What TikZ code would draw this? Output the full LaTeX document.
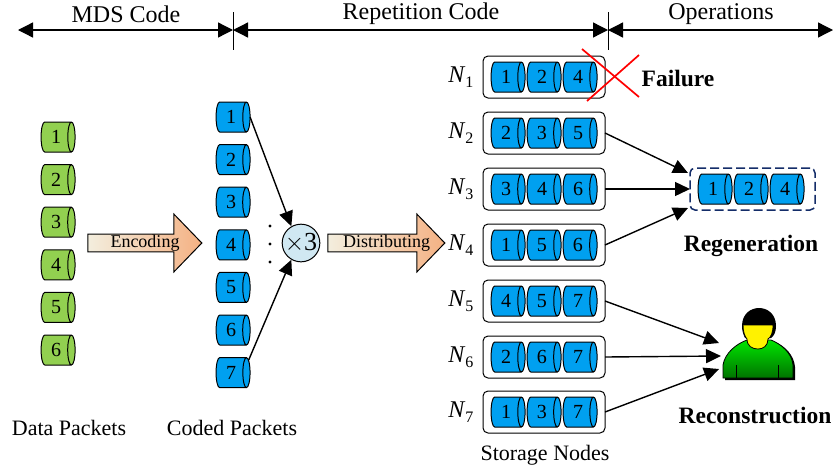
\documentclass[tikz,border=0pt]{standalone}
\usepackage{fontspec}
\setmainfont{Liberation Serif}
\usetikzlibrary{positioning,arrows.meta,shapes.geometric,shapes.arrows}
\definecolor{pktgreen}{RGB}{146,208,80}
\definecolor{pktblue}{RGB}{0,160,240}
\definecolor{arrowbeige}{RGB}{243,238,222}
\definecolor{arroworange}{RGB}{244,177,131}
\definecolor{regennavy}{RGB}{20,45,105}
\definecolor{timesfill}{RGB}{208,232,242}
\newcommand{\nlab}[1]{\textit{N}\raisebox{-5pt}{\fontsize{16}{16}\selectfont #1}}
\tikzstyle{pkt}=[cylinder, shape aspect=0.55, draw=black, line width=1pt, outer sep=0pt,
                 inner sep=0pt, minimum height=34pt, minimum width=30pt,
                 cylinder uses custom fill, font=\fontsize{20}{20}\selectfont]
\tikzstyle{gpkt}=[pkt, cylinder body fill=pktgreen, cylinder end fill=pktgreen]
\tikzstyle{bpkt}=[pkt, cylinder body fill=pktblue, cylinder end fill=pktblue]
\tikzstyle{sbox}=[rectangle, rounded corners=5pt, draw=black, line width=1pt, outer sep=0pt,
                  minimum width=122pt, minimum height=42pt]
\tikzstyle{rbox}=[rectangle, rounded corners=5pt, draw=regennavy, line width=1.5pt, outer sep=0pt,
                  dash pattern=on 9pt off 4pt, minimum width=125pt, minimum height=42pt]
\tikzstyle{bigarrow}=[single arrow, draw=black, line width=1pt, inner sep=0pt, outer sep=0pt,
                  left color=arrowbeige, right color=arroworange, minimum width=58pt,
                  single arrow head extend=19.5pt, single arrow tip angle=92,
                  font=\fontsize{18}{20}\selectfont]
\tikzstyle{pline}=[-{Triangle[length=15pt,width=14pt]}, line width=1.4pt]
\tikzstyle{spanline}=[{Triangle[length=15pt,width=15pt]}-{Triangle[length=15pt,width=15pt]}, line width=1.3pt]
\tikzstyle{toplabel}=[font=\fontsize{24}{26}\selectfont]
\tikzstyle{botlabel}=[font=\fontsize{22}{24}\selectfont]
\tikzstyle{boldlabel}=[font=\fontsize{23.5}{26}\selectfont\bfseries]
\tikzstyle{nlabel}=[font=\fontsize{24}{26}\selectfont]
\tikzstyle{fdot}=[circle, fill=black, inner sep=0pt, minimum size=3.4pt]

\begin{document}
\begin{tikzpicture}[x=1pt,y=-1pt]
\useasboundingbox (0,0) rectangle (834,469);

% top spans
\coordinate (T0) at (18,30);
\coordinate (T1) at (233,30);
\coordinate (T2) at (608,30);
\coordinate (T3) at (833,30);
\coordinate (T1U) at (233,12);
\coordinate (T1D) at (233,50);
\coordinate (T2U) at (608,12);
\coordinate (T2D) at (608,50);
\draw[spanline] (T0) -- (T1);
\draw[spanline] (T1) -- (T2);
\draw[spanline] (T2) -- (T3);
\draw[line width=1pt] (T1U) -- (T1D);
\draw[line width=1pt] (T2U) -- (T2D);
\node (MDS) [toplabel] at (126,14) {MDS Code};
\node (REP) [toplabel] at (421,14) {Repetition Code};
\node (OPS) [toplabel] at (721,14) {Operations};

% data packets
\node (D1) [gpkt] at (56,137) {1};
\node (D2) [gpkt, below=12.6pt of D1] {2};
\node (D3) [gpkt, below=12.6pt of D2] {3};
\node (D4) [gpkt, below=12.6pt of D3] {4};
\node (D5) [gpkt, below=12.6pt of D4] {5};
\node (D6) [gpkt, below=12.6pt of D5] {6};
\node (DATA) [botlabel] at (69,428) {Data Packets};

% coded packets
\node (C1) [bpkt] at (231,117) {1};
\node (C2) [bpkt, below=12.6pt of C1] {2};
\node (C3) [bpkt, below=12.6pt of C2] {3};
\node (C4) [bpkt, below=12.6pt of C3] {4};
\node (C5) [bpkt, below=12.6pt of C4] {5};
\node (C6) [bpkt, below=12.6pt of C5] {6};
\node (C7) [bpkt, below=12.6pt of C6] {7};
\node (CODED) [botlabel] at (232,428) {Coded Packets};

\node (ENC) [bigarrow, minimum height=114pt] at (140.5,243) {\hspace*{9pt}Encoding};
\node (DIS) [bigarrow, minimum height=117pt] at (382,243) {\hspace*{9pt}Distributing};

% replication
\node (TIMES) [circle, draw=black, line width=1pt, fill=timesfill, minimum size=36pt, inner sep=0pt,
               font=\fontsize{26}{26}\selectfont] at (301,243) {$\times$3};
\node (DOT1) [fdot] at (270,226) {};
\node (DOT2) [fdot] at (270,244) {};
\node (DOT3) [fdot] at (270,262) {};
\draw[pline] (C1.east) -- (TIMES.120);
\draw[pline] (C7.35) -- (TIMES.240);

% storage nodes
\node (N1) [sbox] at (544,77) {};
\node (N1A) [bpkt] at (506,77) {1};
\node (N1B) [bpkt, right=2pt of N1A] {2};
\node (N1C) [bpkt, right=2pt of N1B] {4};
\node (N1L) [nlabel, left=6pt of N1] {\nlab{1}};

\node (N2) [sbox] at (544,133) {};
\node (N2A) [bpkt] at (506,133) {2};
\node (N2B) [bpkt, right=2pt of N2A] {3};
\node (N2C) [bpkt, right=2pt of N2B] {5};
\node (N2L) [nlabel, left=6pt of N2] {\nlab{2}};

\node (N3) [sbox] at (544,189) {};
\node (N3A) [bpkt] at (506,189) {3};
\node (N3B) [bpkt, right=2pt of N3A] {4};
\node (N3C) [bpkt, right=2pt of N3B] {6};
\node (N3L) [nlabel, left=6pt of N3] {\nlab{3}};

\node (N4) [sbox] at (544,245) {};
\node (N4A) [bpkt] at (506,245) {1};
\node (N4B) [bpkt, right=2pt of N4A] {5};
\node (N4C) [bpkt, right=2pt of N4B] {6};
\node (N4L) [nlabel, left=6pt of N4] {\nlab{4}};

\node (N5) [sbox] at (544,301) {};
\node (N5A) [bpkt] at (506,301) {4};
\node (N5B) [bpkt, right=2pt of N5A] {5};
\node (N5C) [bpkt, right=2pt of N5B] {7};
\node (N5L) [nlabel, left=6pt of N5] {\nlab{5}};

\node (N6) [sbox] at (544,357) {};
\node (N6A) [bpkt] at (506,357) {2};
\node (N6B) [bpkt, right=2pt of N6A] {6};
\node (N6C) [bpkt, right=2pt of N6B] {7};
\node (N6L) [nlabel, left=6pt of N6] {\nlab{6}};

\node (N7) [sbox] at (544,412) {};
\node (N7A) [bpkt] at (506,412) {1};
\node (N7B) [bpkt, right=2pt of N7A] {3};
\node (N7C) [bpkt, right=2pt of N7B] {7};
\node (N7L) [nlabel, left=6pt of N7] {\nlab{7}};
\node (STORE) [botlabel] at (545,455) {Storage Nodes};

% failure
\coordinate (X1) at (582,49);
\coordinate (X2) at (639,97);
\coordinate (X3) at (587,101);
\coordinate (X4) at (639,55);
\draw[red, line width=1.7pt] (X1) -- (X2);
\draw[red, line width=1.7pt] (X3) -- (X4);
\node (FAIL) [boldlabel] at (678,78) {Failure};

% regeneration
\node (RGN) [rbox] at (752.5,189) {};
\node (RGNA) [bpkt] at (713,189) {1};
\node (RGNB) [bpkt, right=2pt of RGNA] {2};
\node (RGNC) [bpkt, right=2pt of RGNB] {4};
\node (REGEN) [boldlabel] at (751,246) {Regeneration};
\coordinate (RIN1) at (688,173);
\coordinate (RIN3) at (688,208);
\draw[pline] (N2.east) -- (RIN1);
\draw[pline] (N3.east) -- (RGN.west);
\draw[pline] (N4.east) -- (RIN3);

% reconstruction user
\fill[black] (725,380) -- (725,367) .. controls (727,355) and (738,346) .. (747,342)
   -- (775,342) .. controls (785,346) and (794,355) .. (795,367) -- (795,380) -- cycle;
\draw[black, line width=0.8pt, top color=green!90!black, bottom color=green!45!black]
   (723,378) -- (723,365) .. controls (725,353) and (736,344) .. (747,340)
   -- (771,340) .. controls (781,344) and (792,353) .. (793,365) -- (793,378) -- cycle;
\draw[black, line width=0.8pt] (736,365) -- (736,378);
\draw[black, line width=0.8pt] (778,365) -- (778,378);
\fill[black] (742,326) .. controls (742,302) and (776,302) .. (776,326)
   .. controls (776,332) and (774,336) .. (771,338) -- (745,338)
   .. controls (743,334) and (742,330) .. (742,326) -- cycle;
\draw[black, line width=0.8pt, fill=yellow] (743,325) -- (773,325)
   .. controls (773,333) and (771,337) .. (768,339)
   .. controls (768,346) and (763,349) .. (758,349)
   .. controls (752,349) and (747,346) .. (747,339)
   .. controls (745,337) and (743,332) .. (743,325) -- cycle;
\coordinate (UIN1) at (719,343);
\coordinate (UIN2) at (721,356);
\coordinate (UIN3) at (719,369);
\draw[pline] (N5.east) -- (UIN1);
\draw[pline] (N6.east) -- (UIN2);
\draw[pline] (N7.east) -- (UIN3);
\node (RECON) [boldlabel] at (755,415) {Reconstruction};

\end{tikzpicture}
\end{document}
